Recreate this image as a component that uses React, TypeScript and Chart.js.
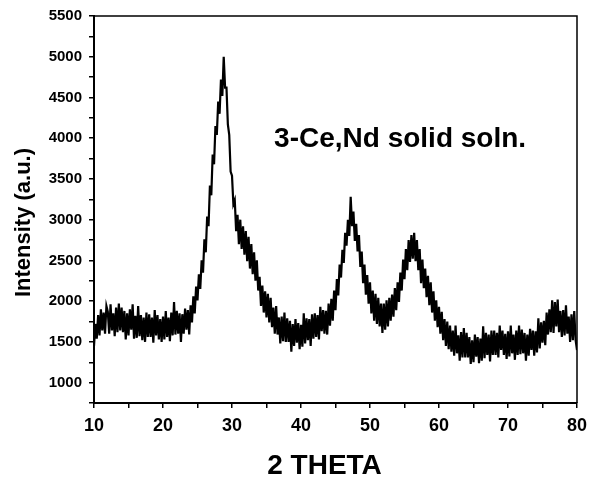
import React, { useEffect, useRef } from "react";
import { Chart, registerables } from "chart.js";

Chart.register(...registerables);

// 2-theta sampling of the scan
const thetaStart = 10;
const thetaStep = 0.2;

const intensity = [
  1450, 1720, 1540, 1830, 1580, 1900, 1640, 1860, 1600, 1940,
  1870, 1600, 1960, 1640, 1850, 1570, 1920, 1620, 1970, 1640,
  1920, 1620, 1880, 1530, 1850, 1580, 1900, 1650, 1960, 1540,
  1820, 1550, 1940, 1570, 1830, 1520, 1800, 1500, 1860, 1560,
  1840, 1560, 1800, 1490, 1890, 1580, 1830, 1530, 1780, 1500,
  1810, 1530, 1880, 1560, 1800, 1510, 1860, 1580, 1990, 1590,
  1880, 1600, 1850, 1500, 1840, 1600, 1910, 1650, 1890, 1590,
  1950, 1740, 2060, 1850, 2180, 2010, 2330, 2150, 2500, 2350,
  2760, 2600, 3040, 2920, 3420, 3300, 3800, 3680, 4150, 4040,
  4450, 4300, 4720, 4520, 5000, 4620, 4620, 4170, 4040, 3590,
  3540, 3190, 3240, 2860, 3060, 2700, 3000, 2640, 2920, 2570,
  2860, 2490, 2790, 2400, 2700, 2330, 2600, 2250, 2500, 2130,
  2300, 1940, 2190, 1860, 2120, 1800, 2090, 1740, 2040, 1680,
  1920, 1600, 1940, 1590, 1800, 1480, 1810, 1510, 1860, 1500,
  1790, 1500, 1760, 1380, 1720, 1450, 1780, 1490, 1730, 1410,
  1710, 1440, 1850, 1480, 1790, 1520, 1780, 1450, 1840, 1540,
  1850, 1560, 1830, 1530, 1930, 1630, 1890, 1600, 1880, 1590,
  1970, 1700, 2030, 1760, 2130, 1890, 2270, 2070, 2450, 2290,
  2630, 2470, 2840, 2680, 3000, 2800, 3280, 2920, 3100, 2740,
  2950, 2610, 2810, 2420, 2610, 2220, 2450, 2080, 2320, 1970,
  2230, 1850, 2130, 1760, 2090, 1720, 2040, 1690, 1970, 1610,
  1970, 1650, 2010, 1690, 2040, 1760, 2080, 1810, 2160, 1890,
  2230, 1990, 2350, 2130, 2510, 2270, 2640, 2380, 2750, 2480,
  2810, 2520, 2840, 2490, 2750, 2380, 2640, 2220, 2510, 2160,
  2400, 2050, 2310, 1950, 2230, 1860, 2120, 1760, 2010, 1680,
  1930, 1600, 1870, 1520, 1780, 1450, 1750, 1410, 1700, 1380,
  1640, 1330, 1700, 1360, 1580, 1270, 1620, 1310, 1670, 1310,
  1610, 1310, 1560, 1230, 1520, 1250, 1590, 1320, 1560, 1240,
  1540, 1270, 1690, 1300, 1610, 1340, 1590, 1260, 1640, 1340,
  1640, 1340, 1610, 1310, 1700, 1400, 1640, 1340, 1600, 1290,
  1630, 1320, 1700, 1360, 1590, 1280, 1640, 1340, 1700, 1350,
  1650, 1360, 1610, 1270, 1590, 1330, 1660, 1400, 1640, 1330,
  1630, 1370, 1790, 1420, 1740, 1490, 1760, 1460, 1860, 1590,
  1900, 1620, 2010, 1610, 1990, 1690, 2020, 1620, 1880, 1560,
  1890, 1580, 1950, 1600, 1810, 1500, 1840, 1520, 1880, 1520,
  1400,
];

const xTickLabels = [10, 20, 30, 40, 50, 60, 70, 80];
const yTickLabels = [1000, 1500, 2000, 2500, 3000, 3500, 4000, 4500, 5000, 5500];
const xMin = 10;
const xMax = 80;
const yMin = 750;
const yMax = 5500;

const xTitle = "2 THETA";
const yTitle = "Intensity (a.u.)";
const annotationText = "3-Ce,Nd solid soln.";
const annotationTheta = 36.1;
const annotationIntensity = 3890;

const FONT = "Arial, 'Liberation Sans', Helvetica, sans-serif";

export default function App() {
  const canvasRef = useRef<HTMLCanvasElement | null>(null);

  useEffect(() => {
    const canvas = canvasRef.current;
    if (!canvas) return;

    const points = intensity.map((v, i) => ({
      x: Math.round((thetaStart + i * thetaStep) * 100) / 100,
      y: v,
    }));

    const framePlugin = {
      id: "frameAndText",
      afterDraw(chart: any) {
        const ctx = chart.ctx;
        const { left, right, top, bottom } = chart.chartArea;
        ctx.save();
        ctx.strokeStyle = "#000";
        ctx.lineWidth = 1.5;
        ctx.beginPath();
        ctx.moveTo(left, top);
        ctx.lineTo(right, top);
        ctx.lineTo(right, bottom);
        ctx.stroke();

        ctx.fillStyle = "#000";
        ctx.font = `bold 28px ${FONT}`;
        ctx.textAlign = "left";
        ctx.textBaseline = "alphabetic";
        const ax = chart.scales.x.getPixelForValue(annotationTheta);
        const ay = chart.scales.y.getPixelForValue(annotationIntensity);
        ctx.fillText(annotationText, ax, ay);

        ctx.font = `bold 28px ${FONT}`;
        ctx.textAlign = "center";
        ctx.textBaseline = "alphabetic";
        ctx.fillText(xTitle, (left + right) / 2 - 11, bottom + 71);

        ctx.font = `bold 22px ${FONT}`;
        ctx.translate(24, (top + bottom) / 2 + 13);
        ctx.rotate(-Math.PI / 2);
        ctx.textAlign = "center";
        ctx.textBaseline = "middle";
        ctx.fillText(yTitle, 0, 0);
        ctx.restore();
      },
    };

    const chart = new Chart(canvas, {
      type: "line",
      data: {
        datasets: [
          {
            data: points,
            borderColor: "#000",
            borderWidth: 2.2,
            borderJoinStyle: "miter",
            pointRadius: 0,
            tension: 0,
            fill: false,
          },
        ],
      },
      options: {
        responsive: false,
        animation: false,
        events: [],
        layout: { padding: { top: 16, right: 20, left: 0, bottom: 0 } },
        plugins: {
          legend: { display: false },
          tooltip: { enabled: false },
          title: { display: false },
        },
        scales: {
          x: {
            type: "linear",
            min: xMin,
            max: xMax,
            afterFit: (scale: any) => {
              scale.height = 77;
            },
            afterBuildTicks: (scale: any) => {
              const t: any[] = [];
              for (let v = xMin; v <= xMax; v += 5) t.push({ value: v });
              scale.ticks = t;
            },
            ticks: {
              autoSkip: false,
              maxRotation: 0,
              padding: 7,
              color: "#000",
              font: { family: FONT, size: 18, weight: "bold" },
              callback: (v: any) => (xTickLabels.includes(Number(v)) ? String(v) : ""),
            },
            grid: {
              drawOnChartArea: false,
              drawTicks: true,
              tickLength: 5,
              color: "#000",
              lineWidth: 1.5,
            },
            border: { display: true, color: "#000", width: 2 },
          },
          y: {
            type: "linear",
            min: yMin,
            max: yMax,
            afterFit: (scale: any) => {
              scale.width = 94;
            },
            afterBuildTicks: (scale: any) => {
              const t: any[] = [];
              for (let v = yMin; v <= yMax; v += 250) t.push({ value: v });
              scale.ticks = t;
            },
            ticks: {
              autoSkip: false,
              padding: 7,
              color: "#000",
              font: { family: FONT, size: 15, weight: "bold" },
              callback: (v: any) => (yTickLabels.includes(Number(v)) ? String(v) : ""),
            },
            grid: {
              drawOnChartArea: false,
              drawTicks: true,
              tickLength: 5,
              color: "#000",
              lineWidth: 1.5,
            },
            border: { display: true, color: "#000", width: 2 },
          },
        },
      },
      plugins: [framePlugin],
    } as any);

    return () => chart.destroy();
  }, []);

  return (
    <div
      style={{
        position: "fixed",
        left: 0,
        top: 0,
        width: 597,
        height: 480,
        background: "#fff",
      }}
    >
      <canvas ref={canvasRef} width={597} height={480} style={{ width: 597, height: 480 }} />
    </div>
  );
}
